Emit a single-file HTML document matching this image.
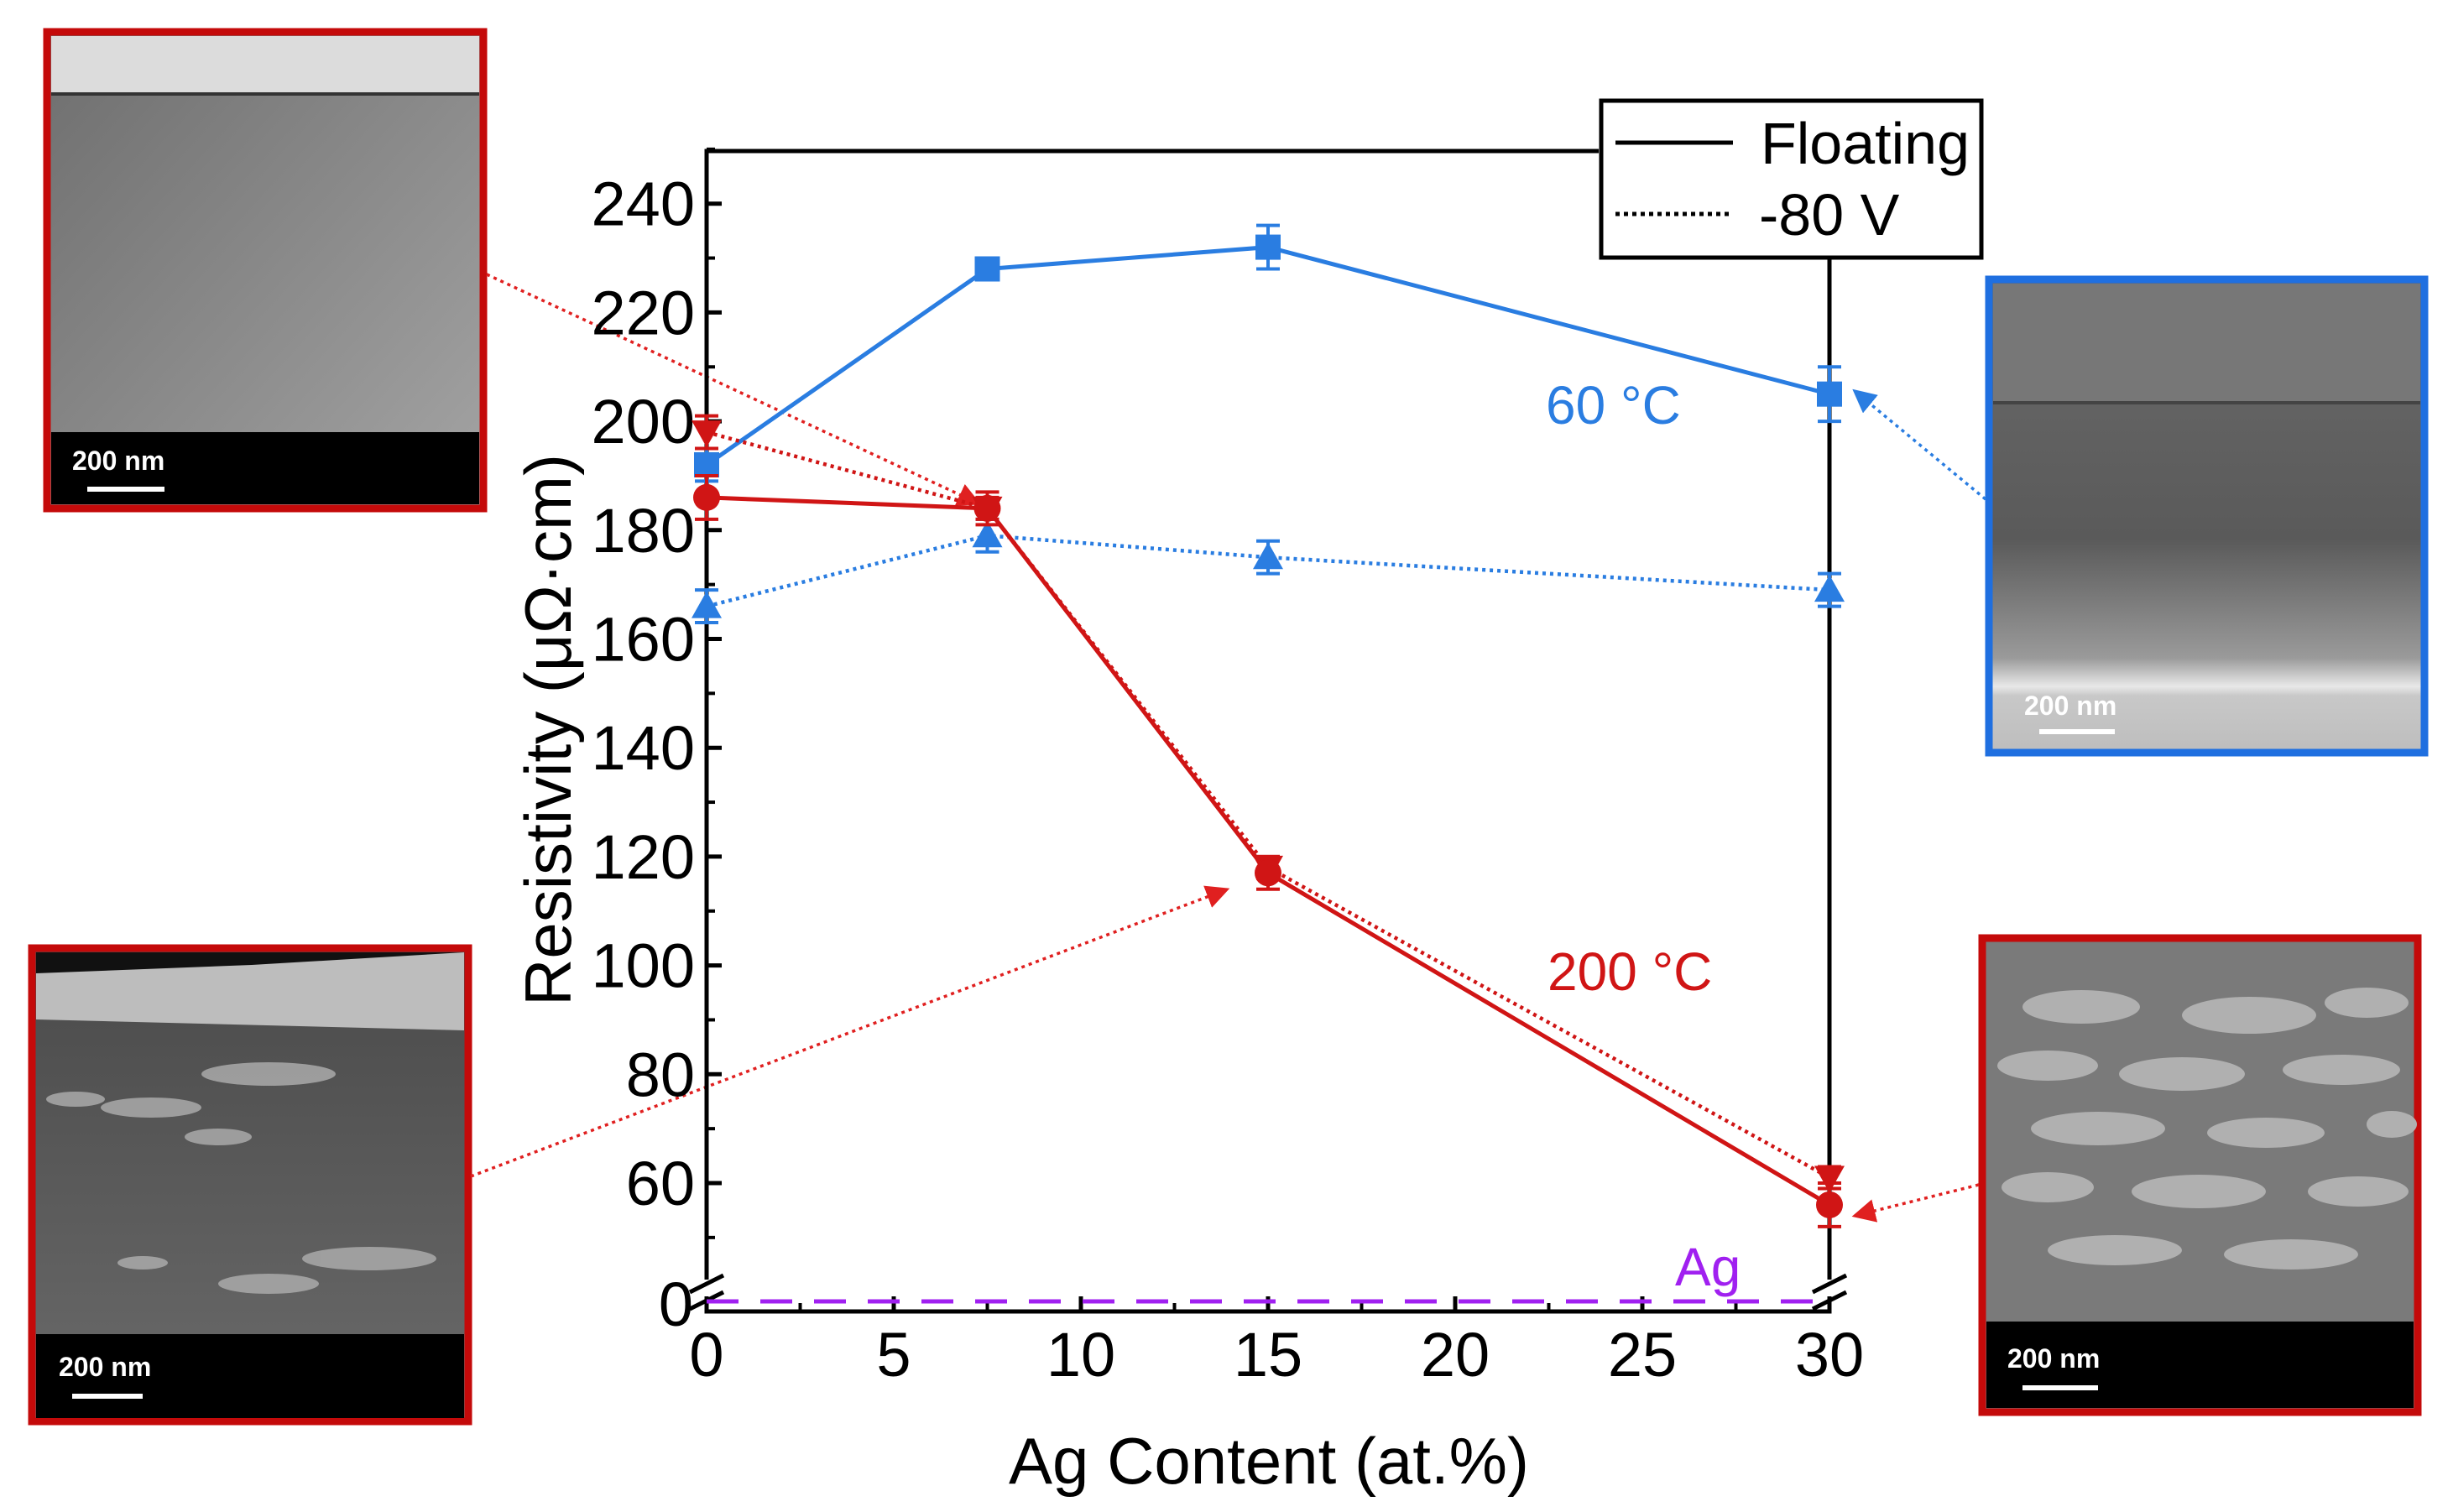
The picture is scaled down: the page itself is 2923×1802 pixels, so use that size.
<!DOCTYPE html>
<html><head><meta charset="utf-8"><style>
html,body{margin:0;padding:0;background:#fff;}
svg{display:block;font-family:"Liberation Sans",sans-serif;}
</style></head><body>
<svg id="chart" width="2923" height="1802" viewBox="0 0 2923 1802" xmlns="http://www.w3.org/2000/svg">
<defs>
<linearGradient id="g1" x1="0" y1="0" x2="1" y2="1"><stop offset="0" stop-color="#6e6e6e"/><stop offset="1" stop-color="#a4a4a4"/></linearGradient>
<linearGradient id="g2" x1="0" y1="0" x2="0" y2="1"><stop offset="0" stop-color="#6a6a6a"/><stop offset="0.55" stop-color="#5a5a5a"/><stop offset="0.8" stop-color="#9a9a9a"/><stop offset="0.86" stop-color="#e8e8e8"/><stop offset="0.88" stop-color="#c8c8c8"/><stop offset="1" stop-color="#bdbdbd"/></linearGradient>
<linearGradient id="g3" x1="0" y1="0" x2="0" y2="1"><stop offset="0" stop-color="#4a4a4a"/><stop offset="1" stop-color="#6a6a6a"/></linearGradient>
<marker id="arR" markerWidth="8" markerHeight="8" refX="7" refY="4" orient="auto" viewBox="0 0 8 8"><path d="M0,0 L8,4 L0,8z" fill="#e02020"/></marker>
<marker id="arB" markerWidth="8" markerHeight="8" refX="7" refY="4" orient="auto" viewBox="0 0 8 8"><path d="M0,0 L8,4 L0,8z" fill="#2a7de1"/></marker>
</defs>

<g>
<rect x="56" y="38" width="520" height="568" fill="url(#g1)" stroke="#c40a0a" stroke-width="9"/>
<rect x="61" y="43" width="510" height="68" fill="#dcdcdc"/>
<line x1="61" y1="112" x2="571" y2="112" stroke="#333" stroke-width="4"/>
<rect x="61" y="515" width="510" height="86" fill="#000"/>
<text x="86" y="560" fill="#fff" font-size="32" font-weight="bold">200 nm</text>
<line x1="104" y1="583" x2="196" y2="583" stroke="#fff" stroke-width="6"/>
</g>
<g>
<rect x="38" y="1130" width="520" height="564" fill="url(#g3)" stroke="#c40a0a" stroke-width="9"/>
<polygon points="43,1135 553,1135 553,1228 43,1215" fill="#bdbdbd"/>
<polygon points="43,1135 553,1135 300,1150 43,1160" fill="#111"/>
<g fill="#aaa" opacity="0.85">
<ellipse cx="320" cy="1280" rx="80" ry="14"/><ellipse cx="180" cy="1320" rx="60" ry="12"/><ellipse cx="260" cy="1355" rx="40" ry="10"/><ellipse cx="90" cy="1310" rx="35" ry="9"/><ellipse cx="440" cy="1500" rx="80" ry="14"/><ellipse cx="320" cy="1530" rx="60" ry="12"/><ellipse cx="170" cy="1505" rx="30" ry="8"/>
</g>
<rect x="43" y="1590" width="510" height="100" fill="#000"/>
<text x="70" y="1640" fill="#fff" font-size="32" font-weight="bold">200 nm</text>
<line x1="86" y1="1664" x2="170" y2="1664" stroke="#fff" stroke-width="6"/>
</g>
<g>
<rect x="2370" y="333" width="519" height="564" fill="url(#g2)" stroke="#1f6fe0" stroke-width="9"/>
<rect x="2375" y="338" width="509" height="140" fill="#777"/>
<line x1="2375" y1="480" x2="2884" y2="480" stroke="#444" stroke-width="4"/>
<text x="2412" y="852" fill="#fff" font-size="32" font-weight="bold">200 nm</text>
<line x1="2430" y1="872" x2="2520" y2="872" stroke="#fff" stroke-width="6"/>
</g>
<g>
<rect x="2362" y="1118" width="519" height="565" fill="#7a7a7a" stroke="#c40a0a" stroke-width="9"/>
<g fill="#b0b0b0">
<ellipse cx="2480" cy="1200" rx="70" ry="20"/><ellipse cx="2680" cy="1210" rx="80" ry="22"/><ellipse cx="2820" cy="1195" rx="50" ry="18"/>
<ellipse cx="2440" cy="1270" rx="60" ry="18"/><ellipse cx="2600" cy="1280" rx="75" ry="20"/><ellipse cx="2790" cy="1275" rx="70" ry="18"/>
<ellipse cx="2500" cy="1345" rx="80" ry="20"/><ellipse cx="2700" cy="1350" rx="70" ry="18"/><ellipse cx="2850" cy="1340" rx="30" ry="16"/>
<ellipse cx="2440" cy="1415" rx="55" ry="18"/><ellipse cx="2620" cy="1420" rx="80" ry="20"/><ellipse cx="2810" cy="1420" rx="60" ry="18"/>
<ellipse cx="2520" cy="1490" rx="80" ry="18"/><ellipse cx="2730" cy="1495" rx="80" ry="18"/>
</g>
<rect x="2367" y="1575" width="509" height="103" fill="#000"/>
<text x="2392" y="1630" fill="#fff" font-size="32" font-weight="bold">200 nm</text>
<line x1="2410" y1="1654" x2="2500" y2="1654" stroke="#fff" stroke-width="6"/>
</g>

<g id="plot"></g>
</svg>
<script>
const xCats = [0, 7.5, 15, 30];
const blueFloat = [192, 228, 232, 205];
const blueBias = [166, 179, 175, 169];
const redFloat = [186, 184, 117, 56];
const redBias = [198, 184, 118, 61];
const errBlueFloat = [3, 2, 4, 5];
const errBlueBias = [3, 3, 3, 3];
const errRedFloat = [4, 3, 3, 4];
const errRedBias = [3, 2, 2, 2];
const agValue = [0];
const yTicks = [60, 80, 100, 120, 140, 160, 180, 200, 220, 240];
const xTicks = [0, 5, 10, 15, 20, 25, 30];

const NS = 'http://www.w3.org/2000/svg';
const L = 842, R = 2180, T = 180, B = 1563;
function sx(v){ return L + v / 30 * (R - L); }
function sy(v){ if (v <= 10) return 1551 - v * 2; return 1410 - (v - 60) / 20 * 129.7; }
const g = document.getElementById('plot');
function mk(tag, attrs, parent){ const e = document.createElementNS(NS, tag); for (const k in attrs) e.setAttribute(k, attrs[k]); (parent || g).appendChild(e); return e; }

const ar = [[580,327,1166,600,'#e02020','arR'],[561,1402,1462,1060,'#e02020','arR'],[2358,1412,2210,1449,'#e02020','arR'],[2366,595,2210,466,'#2a7de1','arB']];
ar.forEach(a => {
  const e = mk('line', {x1:a[0], y1:a[1], x2:a[2], y2:a[3], stroke:a[4], 'stroke-width':3.5, 'stroke-dasharray':'4 5', 'marker-end':'url(#'+a[5]+')'});
  
  
});

const ax = mk('path', {d:`M${L},1525 L${L},${T} L1905,${T} M${R},307 L${R},1525 M${L},1545 L${L},${B} L${R},${B} L${R},1545`, fill:'none', stroke:'#000', 'stroke-width':5});


[[L],[R]].forEach(p => {
  mk('path', {d:`M${p[0]-20},1540 L${p[0]+20},1520 M${p[0]-20},1560 L${p[0]+20},1540`, stroke:'#000', 'stroke-width':5, fill:'none'});
});
yTicks.forEach(v => {
  mk('line', {x1:L, y1:sy(v), x2:L+18, y2:sy(v), stroke:'#000', 'stroke-width':5});
  mk('line', {x1:L, y1:sy(v+10), x2:L+10, y2:sy(v+10), stroke:'#000', 'stroke-width':4});
  const t = mk('text', {x:L-14, y:sy(v)+26, 'text-anchor':'end', 'font-size':74, fill:'#000'});
  t.textContent = v;
  
  
});
mk('line', {x1:L, y1:sy(50), x2:L+10, y2:sy(50), stroke:'#000', 'stroke-width':4});
const t0 = mk('text', {x:L-16, y:1580, 'text-anchor':'end', 'font-size':74, fill:'#000'});
t0.textContent = '0';


xTicks.forEach(v => {
  mk('line', {x1:sx(v), y1:B, x2:sx(v), y2:B-18, stroke:'#000', 'stroke-width':5});
  if (v < 30) mk('line', {x1:sx(v+2.5), y1:B, x2:sx(v+2.5), y2:B-10, stroke:'#000', 'stroke-width':4});
  const t = mk('text', {x:sx(v), y:1640, 'text-anchor':'middle', 'font-size':74, fill:'#000'});
  t.textContent = v;
  
  
});
const xt = mk('text', {x:1512, y:1768, 'text-anchor':'middle', 'font-size':78, fill:'#000'});
xt.textContent = 'Ag Content (at.%)';


const yt = mk('text', {x:0, y:0, 'text-anchor':'middle', 'font-size':78, fill:'#000', transform:'translate(680,870) rotate(-90)'});
yt.textContent = 'Resistivity (\u03bc\u03a9\u00b7cm)';



const agl = mk('line', {x1:L, y1:sy(agValue[0]), x2:R, y2:sy(agValue[0]), stroke:'#a020f0', 'stroke-width':5, 'stroke-dasharray':'38 26'});



function series(vals, errs, color, dotted, marker, name){
  const pts = vals.map((v,i) => sx(xCats[i]) + ',' + sy(v)).join(' ');
  const pl = mk('polyline', {points:pts, fill:'none', stroke:color, 'stroke-width':dotted?4.5:5, 'stroke-dasharray':dotted?'4 5':'none'});
  
  
  vals.forEach((v,i) => {
    const x = sx(xCats[i]), y = sy(v), e = errs[i] / 20 * 129.7;
    mk('path', {d:`M${x},${y-e} L${x},${y+e} M${x-14},${y-e} L${x+14},${y-e} M${x-14},${y+e} L${x+14},${y+e}`, stroke:color, 'stroke-width':4, fill:'none'});
    let m;
    if (marker === 'square') m = mk('rect', {x:x-15, y:y-15, width:30, height:30, fill:color});
    else if (marker === 'circle') m = mk('circle', {cx:x, cy:y, r:16, fill:color});
    else if (marker === 'up') m = mk('polygon', {points:`${x},${y-18} ${x+18},${y+14} ${x-18},${y+14}`, fill:color});
    else m = mk('polygon', {points:`${x},${y+18} ${x+18},${y-14} ${x-18},${y-14}`, fill:color});
    
    
  });
}
const BLUE = '#2a7de1', RED = '#d01515';
series(blueBias, errBlueBias, BLUE, true, 'up', 'blue-bias');
series(blueFloat, errBlueFloat, BLUE, false, 'square', 'blue-floating');
series(redBias, errRedBias, RED, true, 'down', 'red-bias');
series(redFloat, errRedFloat, RED, false, 'circle', 'red-floating');

[['60 \u00b0C', 1842, 505, BLUE, 'label-60c'], ['200 \u00b0C', 1844, 1180, RED, 'label-200c'], ['Ag', 1996, 1532, '#a020f0', 'label-ag']].forEach(a => {
  const t = mk('text', {x:a[1], y:a[2], 'font-size':64, fill:a[3]});
  t.textContent = a[0];
  
  
});

const lg = mk('g', {});


mk('rect', {x:1908, y:120, width:453, height:187, fill:'#fff', stroke:'#000', 'stroke-width':5}, lg);
mk('line', {x1:1925, y1:170, x2:2065, y2:170, stroke:'#000', 'stroke-width':5}, lg);
mk('line', {x1:1925, y1:255, x2:2065, y2:255, stroke:'#000', 'stroke-width':5, 'stroke-dasharray':'5 5'}, lg);
const l1 = mk('text', {x:2098, y:195, 'font-size':70, fill:'#000'}, lg);
l1.textContent = 'Floating';


const l2 = mk('text', {x:2096, y:280, 'font-size':70, fill:'#000'}, lg);
l2.textContent = '-80 V';


</script>
</body></html>
